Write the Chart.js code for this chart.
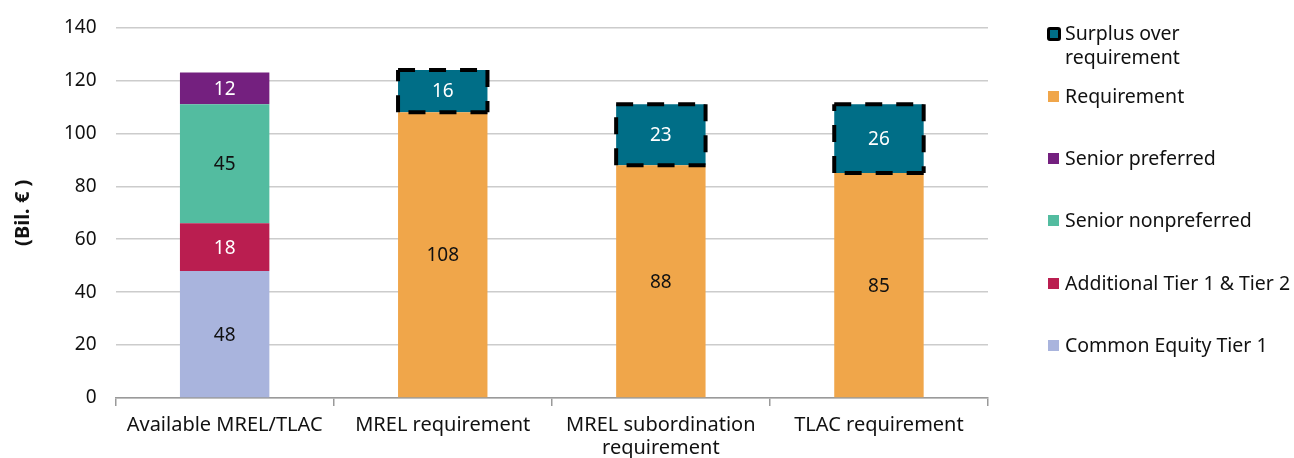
<!DOCTYPE html>
<html>
<head>
<meta charset="utf-8">
<script src="https://cdn.jsdelivr.net/npm/chart.js@4"></script>
<style>
  html, body { margin: 0; padding: 0; background: #fff; }
  #wrap { position: relative; width: 1294px; height: 458px; }
  #legend { position: absolute; left: 1048px; top: 21px; font-family: "Noto Sans", sans-serif; font-size: 19.5px; color: #111; }
  .item { position: absolute; left: 0; white-space: nowrap; line-height: 24px; }
  .item .box { position: absolute; left: 0; top: 7px; width: 11px; height: 11px; }
  .item .txt { position: absolute; left: 17px; top: 0; }
</style>
</head>
<body>
<div id="wrap">
  <canvas id="chart" width="1294" height="458"></canvas>
  <div id="legend"></div>
</div>
<script>
var categories = [['Available MREL/TLAC'], ['MREL requirement'], ['MREL subordination', 'requirement'], ['TLAC requirement']];
var cet1 = [48, null, null, null];
var at1t2 = [18, null, null, null];
var seniorNonPreferred = [45, null, null, null];
var seniorPreferred = [12, null, null, null];
var requirement = [null, 108, 88, 85];
var surplus = [null, 16, 23, 26];
var yTicks = [0, 20, 40, 60, 80, 100, 120, 140];

var seriesNames = ['Common Equity Tier 1', 'Additional Tier 1 & Tier 2', 'Senior nonpreferred', 'Senior preferred', 'Requirement', 'Surplus over requirement'];
var seriesColors = ['#A9B4DD', '#BA1E50', '#53BCA0', '#74207F', '#F0A64A', '#006E87'];
var labelColors = ['#111', '#fff', '#111', '#fff', '#111', '#fff'];
var seriesData = [cet1, at1t2, seniorNonPreferred, seniorPreferred, requirement, surplus];

var valueLabels = {
  id: 'valueLabels',
  afterDatasetsDraw: function(chart) {
    var ctx = chart.ctx;
    ctx.save();
    ctx.font = '19px "Noto Sans", sans-serif';
    ctx.textAlign = 'center';
    ctx.textBaseline = 'middle';
    chart.data.datasets.forEach(function(ds, i) {
      var meta = chart.getDatasetMeta(i);
      meta.data.forEach(function(el, j) {
        if (ds.data[j] == null) return;
        ctx.fillStyle = labelColors[i];
        ctx.fillText(ds.data[j], el.x, (el.y + el.base) / 2 + 1);
      });
    });
    ctx.restore();
  }
};

var dashedSurplus = {
  id: 'dashedSurplus',
  afterDatasetsDraw: function(chart) {
    var ctx = chart.ctx;
    var idx = seriesData.indexOf(surplus);
    var meta = chart.getDatasetMeta(idx);
    ctx.save();
    ctx.strokeStyle = '#000';
    ctx.lineWidth = 4;
    ctx.setLineDash([17, 14]);
    meta.data.forEach(function(el, j) {
      if (surplus[j] == null) return;
      var l = el.x - el.width / 2, r = el.x + el.width / 2, t = el.y, b = el.base;
      var sides = [[l, t, r, t], [r, t, r, b], [r, b, l, b], [l, b, l, t]];
      sides.forEach(function(s) {
        ctx.beginPath();
        ctx.moveTo(s[0], s[1]);
        ctx.lineTo(s[2], s[3]);
        ctx.stroke();
      });
    });
    ctx.restore();
  }
};

new Chart(document.getElementById('chart'), {
  type: 'bar',
  data: {
    labels: categories,
    datasets: seriesData.map(function(d, i) {
      return {
        label: seriesNames[i],
        data: d,
        backgroundColor: seriesColors[i],
        borderWidth: 0,
        barPercentage: 0.41,
        categoryPercentage: 1,
        skipNull: true
      };
    })
  },
  options: {
    responsive: false,
    animation: false,
    layout: { padding: { left: 7, right: 306, top: 4, bottom: -10 } },
    plugins: {
      legend: { display: false },
      tooltip: { enabled: false }
    },
    scales: {
      x: {
        stacked: true,
        grid: { offset: true, drawOnChartArea: false, drawTicks: true, tickLength: 8, color: '#9a9a9a', lineWidth: 1.5 },
        border: { color: '#9a9a9a', width: 1.5 },
        ticks: { color: '#111', font: { family: 'Noto Sans', size: 20, lineHeight: 1.15 }, padding: 8, maxRotation: 0 }
      },
      y: {
        stacked: true,
        min: 0,
        max: 140,
        afterBuildTicks: function(axis) { axis.ticks = yTicks.map(function(v) { return { value: v }; }); },
        grid: { color: '#cccccc', lineWidth: 1.5, drawTicks: false },
        border: { display: false },
        ticks: { color: '#111', font: { family: 'Noto Sans', size: 19, lineHeight: 0.9 }, padding: 19 },
        title: { display: true, text: '(Bil. € )', color: '#111', font: { family: 'Noto Sans', size: 20, weight: 'bold' }, padding: { bottom: 10 } }
      }
    }
  },
  plugins: [valueLabels, dashedSurplus]
});

// legend, top item first (reverse of stacking order)
var legendTops = [0, 63, 125, 187, 250, 312];
var legend = document.getElementById('legend');
seriesNames.slice().reverse().forEach(function(name, k) {
  var i = seriesNames.length - 1 - k;
  var item = document.createElement('div');
  item.className = 'item';
  item.style.top = legendTops[k] + 'px';
  var box = document.createElement('span');
  box.className = 'box';
  box.style.background = seriesColors[i];
  if (i === seriesNames.length - 1) {
    box.style.border = '3px solid #000';
    box.style.borderRadius = '3px';
    box.style.width = '8px';
    box.style.height = '8px';
    box.style.left = '-1px';
    box.style.top = '6px';
  }
  var txt = document.createElement('span');
  txt.className = 'txt';
  txt.innerHTML = name === 'Surplus over requirement' ? 'Surplus over<br>requirement' : name.replace('&', '&amp;');
  item.appendChild(box);
  item.appendChild(txt);
  legend.appendChild(item);
});
</script>
</body>
</html>
